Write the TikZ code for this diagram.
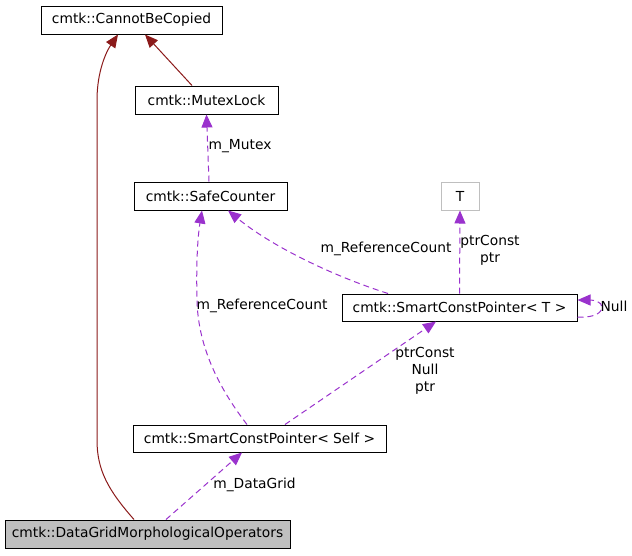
\documentclass[tikz,border=0pt]{standalone}
\usepackage{fontspec}
\setmainfont{DejaVu Sans}
\usetikzlibrary{arrows.meta}
\definecolor{inh}{HTML}{8B1A1A}
\definecolor{use}{HTML}{9A32CD}
\definecolor{boxgrey}{HTML}{BFBFBF}
\begin{document}
\begin{tikzpicture}[x=1pt,y=-1pt,
  font=\fontsize{13.8}{17}\selectfont,
  box/.style={draw=black,line width=1pt,inner sep=0pt,minimum height=28pt,anchor=center},
  inhedge/.style={draw=inh,line width=1pt,-{Triangle[length=13pt,width=11pt]}},
  useedge/.style={draw=use,line width=1pt,dash pattern=on 6pt off 4pt,-{Triangle[length=13pt,width=11pt,fill=use]}},
  lbl/.style={inner sep=0pt,align=center,anchor=center}]
\useasboundingbox (0,0) rectangle (632,555);
\node[box,minimum width=181pt] (cbc) at (131.5,20) {cmtk::CannotBeCopied};
\node[box,minimum width=143pt] (mutex) at (206.5,100) {cmtk::MutexLock};
\node[box,minimum width=153pt] (safe) at (210.5,196) {cmtk::SafeCounter};
\node[box,draw=boxgrey,minimum width=38pt] (T) at (460,196) {T};
\node[box,minimum width=235pt,minimum height=27pt] (scpT) at (459.5,307.5) {cmtk::SmartConstPointer< T >};
\node[box,minimum width=253pt,minimum height=27pt] (scpS) at (259.5,438.5) {cmtk::SmartConstPointer< Self >};
\node[box,fill=boxgrey,minimum width=285pt] (dgmo) at (147.5,534) {cmtk::DataGridMorphologicalOperators};
% inheritance
\draw[inhedge] ([xshift=-13.5pt]dgmo.north) .. controls (108,490) and (97,470) .. (97,440) -- (97,100) .. controls (97,72) and (106,52) .. ([xshift=-13.5pt]cbc.south);
\draw[inhedge] ([xshift=-14.5pt]mutex.north) -- ([xshift=13.5pt]cbc.south);
% usage
\draw[useedge] ([xshift=-1.5pt]safe.north) -- (mutex.south);
\node[lbl] (l1) at (240,146) {m\_Mutex};
\draw[useedge] ([xshift=-71.5pt]scpT.north) .. controls (330,275) and (270,245) .. ([xshift=17.5pt]safe.south);
\node[lbl] (l2) at (386,249) {m\_ReferenceCount};
\draw[useedge] (scpT.north) -- (T.south);
\node[lbl] (l3) at (490,250) {ptrConst\\ptr};
\draw[useedge] ([yshift=-9.5pt]scpT.east) .. controls (596,318) and (602,312) .. (602,307) .. controls (602,302) and (594,300) .. ([yshift=7.5pt]scpT.east);
\node[lbl] (l4) at (614,306) {Null};
\draw[useedge] ([xshift=-12.5pt]scpS.north) .. controls (222,392) and (198,350) .. (197,300) .. controls (196,260) and (198,235) .. ([xshift=-8.5pt]safe.south);
\node[lbl] (l5) at (262,306) {m\_ReferenceCount};
\draw[useedge] ([xshift=25.5pt]scpS.north) -- ([xshift=-23.5pt]scpT.south);
\node[lbl] (l6) at (425,371) {ptrConst\\Null\\ptr};
\draw[useedge] ([xshift=18.5pt]dgmo.north) -- ([xshift=-17.5pt]scpS.south);
\node[lbl] (l7) at (254.5,485) {m\_DataGrid};
\end{tikzpicture}
\end{document}
